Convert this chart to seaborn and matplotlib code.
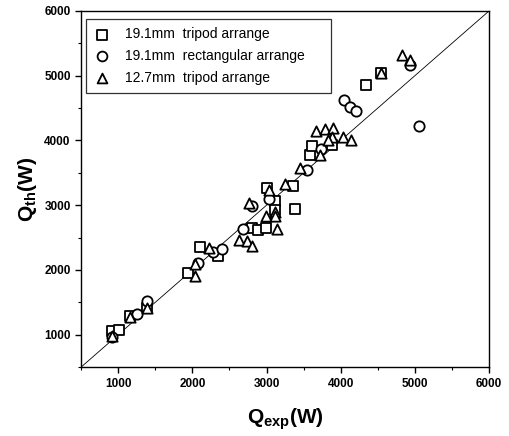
import matplotlib
matplotlib.use("Agg")
import matplotlib.pyplot as plt
import seaborn as sns
import numpy as np

# Data
sq_x = [920, 1010, 1165, 1390, 1940, 2100, 2340, 2800, 2890, 2990, 3010, 3120, 3120, 3360, 3380, 3590, 3610, 3880, 4340, 4540]
sq_y = [1050, 1080, 1290, 1420, 1960, 2360, 2220, 2650, 2620, 2650, 3270, 3060, 2920, 3290, 2940, 3780, 3910, 3930, 4860, 5040]

ci_x = [920, 1250, 1390, 2070, 2280, 2400, 2680, 2810, 3030, 3540, 3740, 4050, 4120, 4210, 4940, 5050]
ci_y = [960, 1320, 1520, 2110, 2270, 2320, 2640, 2980, 3100, 3550, 3860, 4630, 4520, 4450, 5160, 4220]

tr_x = [920, 1165, 1390, 2030, 2030, 2230, 2630, 2740, 2810, 2760, 2990, 3030, 3120, 3120, 3140, 3250, 3450, 3720, 3670, 3790, 3900, 3880, 4030, 4140, 4540, 4830, 4940, 3830]
tr_y = [985, 1270, 1420, 2090, 1910, 2340, 2470, 2450, 2370, 3040, 2830, 3240, 2900, 2830, 2630, 3320, 3570, 3780, 4140, 4170, 4190, 4060, 4060, 4010, 5040, 5320, 5240, 4000]

labels = ["19.1mm  tripod arrange", "19.1mm  rectangular arrange", "12.7mm  tripod arrange"]
ticks = [1000, 2000, 3000, 4000, 5000, 6000]

sns.set_style("ticks")
plt.rcParams['font.family'] = ['Liberation Sans', 'DejaVu Sans']
plt.rcParams['mathtext.fontset'] = 'custom'
plt.rcParams['mathtext.rm'] = 'Liberation Sans:bold'
plt.rcParams['mathtext.it'] = 'Liberation Sans:bold'
plt.rcParams['mathtext.bf'] = 'Liberation Sans:bold'
for k in ['text.color', 'axes.labelcolor', 'xtick.color', 'ytick.color', 'axes.edgecolor']:
    plt.rcParams[k] = 'black'

fig = plt.figure(figsize=(5.10, 4.36), dpi=100)
ax = fig.add_axes([0.159, 0.158, 0.800, 0.817])

ax.plot([500, 6000], [500, 6000], color='black', lw=0.6, zorder=1)

kw = dict(s=55, facecolor='white', edgecolor='black', linewidth=1.3, zorder=3, ax=ax)
sns.scatterplot(x=sq_x, y=sq_y, marker='s', label=labels[0], **kw)
sns.scatterplot(x=ci_x, y=ci_y, marker='o', label=labels[1], **kw)
sns.scatterplot(x=tr_x, y=tr_y, marker='^', label=labels[2], **kw)

ax.set_xlim(500, 6000)
ax.set_ylim(500, 6000)
ax.set_xticks(ticks)
ax.set_yticks(ticks)
ax.set_xticks(np.arange(500, 6001, 500), minor=True)
ax.set_yticks(np.arange(500, 6001, 500), minor=True)
ax.tick_params(which='major', direction='out', length=4, width=1, labelsize=8.5, colors='black')
ax.tick_params(which='minor', direction='out', length=2.5, width=0.8, colors='black')
for lab in ax.get_xticklabels() + ax.get_yticklabels():
    lab.set_fontweight('bold')
for sp in ax.spines.values():
    sp.set_linewidth(1.0)
    sp.set_color('black')

ax.set_xlabel(r'Q$_{exp}$(W)', fontsize=15, fontweight='bold', labelpad=12, color='black')
ax.set_ylabel(r'Q$_{th}$(W)', fontsize=15, fontweight='bold', labelpad=4, color='black')

leg = ax.legend(loc='upper left', bbox_to_anchor=(0.012, 0.0, 0.601, 0.978), mode='expand',
                frameon=True, fancybox=False,
                edgecolor='black', fontsize=10, handletextpad=1.2, borderpad=0.62,
                labelspacing=0.55, handlelength=1.0, markerscale=0.95, borderaxespad=0)
leg.get_frame().set_linewidth(0.9)
for t in leg.get_texts():
    t.set_color('black')

fig.savefig('out.png', dpi=100)
